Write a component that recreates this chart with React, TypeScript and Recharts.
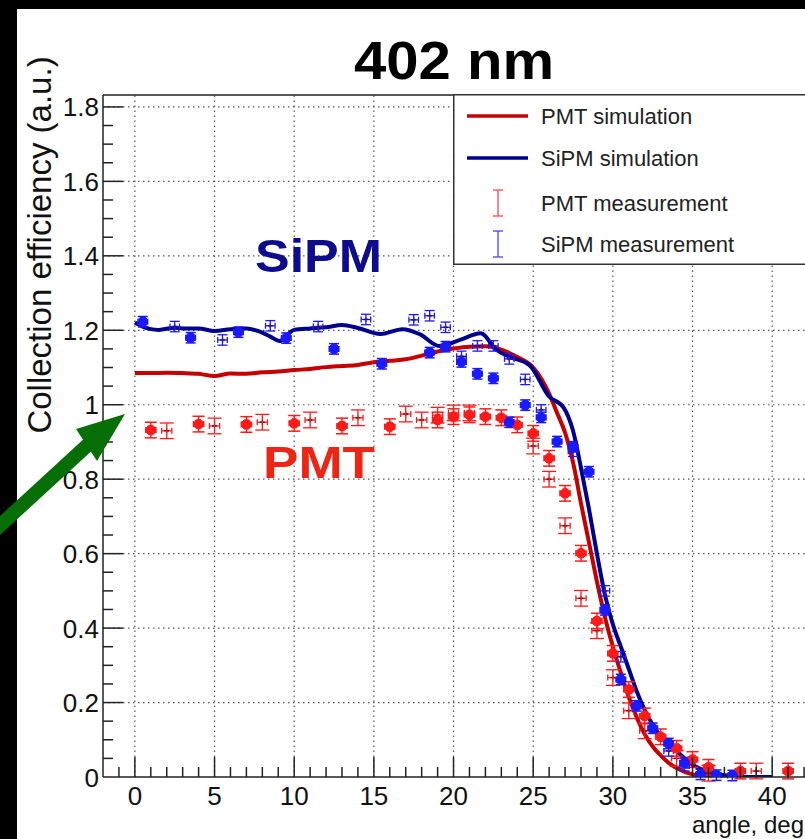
import React from "react";
import {
  ComposedChart,
  Line,
  Scatter,
  XAxis,
  YAxis,
  ReferenceLine,
  ErrorBar,
} from "recharts";

const FONT = "'Liberation Sans', Arial, Helvetica, sans-serif";

// axis ranges read from the frame
const X_MIN = -2;
const X_MAX = 43;
const Y_MAX = 1.832;

const xGrid = [0, 5, 10, 15, 20, 25, 30, 35, 40];
const yGrid = [0.2, 0.4, 0.6, 0.8, 1, 1.2, 1.4, 1.6, 1.8];
const xTicks = Array.from({ length: 44 }, (_, i) => i - 1);
const yTicks = Array.from({ length: 37 }, (_, i) => +(i * 0.05).toFixed(2));

// simulation curves
const pmtSimAngle = [
  0, 1, 2, 3, 4, 5, 6, 7, 8, 9, 10, 11, 12, 13, 14, 15, 16, 17, 18, 19, 20, 21,
  22, 23, 24, 25, 26, 26.5, 27, 27.5, 28, 28.5, 29, 29.5, 30, 30.5, 31, 31.5,
  32, 32.5, 33, 33.5, 34, 35, 36, 37, 38, 39, 40,
];
const pmtSimEff = [
  1.085, 1.085, 1.086, 1.085, 1.083, 1.077, 1.084, 1.083, 1.087, 1.089, 1.093,
  1.096, 1.101, 1.104, 1.107, 1.114, 1.118, 1.122, 1.132, 1.143, 1.151, 1.156,
  1.157, 1.148, 1.128, 1.1, 1.03, 0.978, 0.925, 0.845, 0.735, 0.63, 0.525,
  0.43, 0.35, 0.28, 0.215, 0.16, 0.115, 0.082, 0.058, 0.038, 0.024, 0.007,
  0.002, 0, 0, 0, 0,
];

const sipmSimAngle = [
  0, 0.5, 1, 1.5, 2.5, 3, 4, 5, 6, 7, 7.8, 8.5, 9.1, 9.5, 10, 11, 12, 13, 14,
  15.4, 16.8, 17.9, 19.1, 20.4, 21.7, 22.7, 23.5, 24.8, 26, 26.9, 27.5, 28,
  28.5, 29, 29.5, 30, 30.5, 31, 31.5, 32, 32.5, 33, 33.5, 34, 34.5, 35, 36, 37,
  38, 40,
];
const sipmSimEff = [
  1.221, 1.21, 1.203, 1.201, 1.207, 1.205, 1.205, 1.198, 1.203, 1.205, 1.197,
  1.183, 1.171, 1.185, 1.201, 1.205, 1.208, 1.214, 1.206, 1.19, 1.203, 1.189,
  1.158, 1.174, 1.192, 1.147, 1.129, 1.105, 1.022, 0.993, 0.93, 0.83, 0.72, 0.6,
  0.49, 0.41, 0.35, 0.29, 0.23, 0.18, 0.14, 0.11, 0.09, 0.07, 0.05, 0.033,
  0.014, 0.005, 0.001, 0,
];

// measurements (two runs each)
const pmtFilledAngle = [
  1, 4, 7, 10, 13, 16, 19, 20, 21, 22, 23, 24, 25, 26, 27, 28, 29, 30, 31, 32,
  33, 34, 35, 36, 38, 41,
];
const pmtFilledEff = [
  0.932, 0.948, 0.947, 0.95, 0.943, 0.941, 0.959, 0.968, 0.973, 0.968, 0.965,
  0.946, 0.923, 0.856, 0.762, 0.601, 0.419, 0.332, 0.235, 0.164, 0.108, 0.077,
  0.047, 0.026, 0.016, 0.016,
];
const pmtOpenAngle = [
  2, 5, 8, 11, 14, 17, 18, 19, 20, 21, 25, 26, 27, 28, 29, 30, 31, 32, 34, 36, 39,
];
const pmtOpenEff = [
  0.93, 0.943, 0.953, 0.959, 0.965, 0.975, 0.959, 0.972, 0.978, 0.978, 0.889,
  0.8, 0.675, 0.48, 0.393, 0.267, 0.178, 0.124, 0.05, 0.01, 0.016,
];

const sipmFilledAngle = [
  0.5, 3.5, 6.5, 9.5, 12.5, 15.5, 18.5, 19.5, 20.5, 21.5, 22.5, 23.5, 24.5,
  25.5, 26.5, 27.5, 28.5, 29.5, 30.5, 31.5, 32.5, 33.5, 34.5, 35.5, 36.5, 37.5,
];
const sipmFilledEff = [
  1.223, 1.18, 1.195, 1.179, 1.15, 1.11, 1.14, 1.156, 1.115, 1.083, 1.071,
  0.953, 0.999, 0.966, 0.901, 0.887, 0.82, 0.449, 0.262, 0.191, 0.131, 0.09,
  0.038, 0.007, 0.005, 0.004,
];
const sipmOpenAngle = [
  2.5, 5.5, 8.5, 11.5, 14.5, 17.5, 18.5, 19.5, 20.5, 21.5, 22.5, 23.5, 24.5,
  25.5, 27.5, 29.5, 30.5, 33.5, 34.5,
];
const sipmOpenEff = [
  1.21, 1.174, 1.212, 1.21, 1.229, 1.228, 1.239, 1.208, 1.13, 1.158, 1.158,
  1.123, 1.068, 0.986, 0.875, 0.5, 0.323, 0.07, 0.03,
];

const PMT_ERR_X = 0.32;
const PMT_ERR_Y = 0.021;
const SIPM_ERR_X = 0.3;
const SIPM_ERR_Y = 0.014;

const PMT_LINE = "#c40000";
const SIPM_LINE = "#00008f";
const PMT_PTS = "#ff1a1a";
const SIPM_PTS = "#1a1aff";

const curve = (xs: number[], ys: number[]) => xs.map((x, i) => ({ x, y: ys[i] }));
const points = (xs: number[], ys: number[], ex: number, ey: number) =>
  xs.map((x, i) => ({ x, y: ys[i], ex, ey }));

const pmtSim = curve(pmtSimAngle, pmtSimEff);
const sipmSim = curve(sipmSimAngle, sipmSimEff);
const pmtFilled = points(pmtFilledAngle, pmtFilledEff, PMT_ERR_X, PMT_ERR_Y);
const pmtOpen = points(pmtOpenAngle, pmtOpenEff, PMT_ERR_X, PMT_ERR_Y);
const sipmFilled = points(sipmFilledAngle, sipmFilledEff, SIPM_ERR_X, SIPM_ERR_Y);
const sipmOpen = points(sipmOpenAngle, sipmOpenEff, SIPM_ERR_X, SIPM_ERR_Y);

const filledMarker = (color: string) => (props: any) => {
  const { cx, cy } = props;
  if (cx == null || cy == null) return <g />;
  const a = 4.6;
  const b = 2.2;
  const d = `M${cx - b},${cy - a} L${cx + b},${cy - a} L${cx + a},${cy - b} L${cx + a},${cy + b} L${cx + b},${cy + a} L${cx - b},${cy + a} L${cx - a},${cy + b} L${cx - a},${cy - b} Z`;
  return <path d={d} fill={color} stroke={color} strokeWidth={1} />;
};

const openMarker = (color: string) => (props: any) => {
  const { cx, cy } = props;
  if (cx == null || cy == null) return <g />;
  return (
    <g strokeWidth={1.3} fill="none">
      <line x1={cx - 2.5} x2={cx + 2.5} y1={cy} y2={cy} stroke="#500" />
      <line x1={cx} x2={cx} y1={cy - 2.5} y2={cy + 2.5} stroke={color} />
    </g>
  );
};

const XTick = (props: any) => {
  const { x, y, payload } = props;
  const v = payload.value;
  const major = v % 5 === 0;
  return (
    <g>
      <line x1={x} x2={x} y1={y} y2={y - (major ? 20 : 10)} stroke="#222" strokeWidth={1.5} />
      {major && v >= 0 && v <= 40 && (
        <text x={x} y={y + 28} textAnchor="middle" fontSize={26} fontFamily={FONT} fill="#111">
          {v}
        </text>
      )}
    </g>
  );
};

const YTick = (props: any) => {
  const { x, y, payload } = props;
  const v = payload.value;
  const major = Math.abs(v * 5 - Math.round(v * 5)) < 1e-6;
  return (
    <g>
      {v > 0 && (
        <line x1={x} x2={x + (major ? 20 : 10)} y1={y} y2={y} stroke="#222" strokeWidth={1.5} />
      )}
      {major && (
        <text x={x - 4} y={y + 9.5} textAnchor="end" fontSize={26} fontFamily={FONT} fill="#111">
          {Number(v.toFixed(1))}
        </text>
      )}
    </g>
  );
};

const legendItems = [
  { label: "PMT simulation", color: PMT_LINE, kind: "line" },
  { label: "SiPM simulation", color: SIPM_LINE, kind: "line" },
  { label: "PMT measurement", color: PMT_PTS, kind: "bar" },
  { label: "SiPM measurement", color: SIPM_PTS, kind: "bar" },
];

function LegendBox() {
  const rowY = [22, 64, 109, 150];
  return (
    <svg
      width={352}
      height={171}
      style={{ position: "absolute", left: 453, top: 94, background: "#fff" }}
    >
      <rect x={0.75} y={0.75} width={352} height={169.5} fill="#fff" stroke="#333" strokeWidth={1.5} />
      {legendItems.map((it, i) => (
        <g key={it.label}>
          {it.kind === "line" ? (
            <line x1={14} x2={75} y1={rowY[i]} y2={rowY[i]} stroke={it.color} strokeWidth={3.5} />
          ) : (
            <g stroke={it.color} strokeWidth={1.3} opacity={0.8}>
              <line x1={45} x2={45} y1={rowY[i] - 13} y2={rowY[i] + 13} />
              <line x1={40} x2={50} y1={rowY[i] - 13} y2={rowY[i] - 13} />
              <line x1={40} x2={50} y1={rowY[i] + 13} y2={rowY[i] + 13} />
            </g>
          )}
          <text x={88} y={rowY[i] + 8} fontSize={22} fontFamily={FONT} fill="#222">
            {it.label}
          </text>
        </g>
      ))}
    </svg>
  );
}

export default function App() {
  return (
    <div
      style={{
        position: "absolute",
        left: 0,
        top: 0,
        width: 805,
        height: 839,
        overflow: "hidden",
        background: "#000",
      }}
    >
      <div style={{ position: "absolute", left: 17, top: 9, right: 0, bottom: 0, background: "#fff" }} />
      <div style={{ position: "absolute", left: 0, top: 0 }}>
        <ComposedChart width={820} height={839} margin={{ top: 95, right: 0, bottom: 0, left: 0 }}>
          <XAxis
            dataKey="x"
            type="number"
            domain={[X_MIN, X_MAX]}
            ticks={xTicks}
            interval={0}
            tickLine={false}
            tickSize={0}
            tickMargin={0}
            tick={<XTick />}
            height={62}
            axisLine={{ stroke: "#222", strokeWidth: 1.5 }}
            allowDataOverflow
          />
          <YAxis
            dataKey="y"
            type="number"
            domain={[0, Y_MAX]}
            ticks={yTicks}
            interval={0}
            tickLine={false}
            tickSize={0}
            tickMargin={0}
            tick={<YTick />}
            width={103}
            axisLine={{ stroke: "#222", strokeWidth: 1.5 }}
            allowDataOverflow
          />
          {xGrid.map((v) => (
            <ReferenceLine key={"gx" + v} x={v} stroke="#555" strokeWidth={1.2} strokeDasharray="1.5 3.5" />
          ))}
          {yGrid.map((v) => (
            <ReferenceLine key={"gy" + v} y={v} stroke="#555" strokeWidth={1.2} strokeDasharray="1.5 3.5" />
          ))}
          <ReferenceLine y={Y_MAX} stroke="#222" strokeWidth={1.5} />
          <Line
            data={pmtSim}
            dataKey="y"
            type="monotone"
            stroke={PMT_LINE}
            strokeWidth={4}
            dot={false}
            isAnimationActive={false}
          />
          <Line
            data={sipmSim}
            dataKey="y"
            type="monotone"
            stroke={SIPM_LINE}
            strokeWidth={4}
            dot={false}
            isAnimationActive={false}
          />
          <Scatter data={pmtOpen} dataKey="y" shape={openMarker(PMT_PTS)} isAnimationActive={false}>
            <ErrorBar dataKey="ey" direction="y" width={7} stroke={PMT_PTS} strokeWidth={1.3} />
            <ErrorBar dataKey="ex" direction="x" width={3} stroke={PMT_PTS} strokeWidth={1.3} />
          </Scatter>
          <Scatter data={pmtFilled} dataKey="y" shape={filledMarker(PMT_PTS)} isAnimationActive={false}>
            <ErrorBar dataKey="ey" direction="y" width={6} stroke={PMT_PTS} strokeWidth={1.5} />
            <ErrorBar dataKey="ex" direction="x" width={3} stroke={PMT_PTS} strokeWidth={1.5} />
          </Scatter>
          <Scatter data={sipmOpen} dataKey="y" shape={openMarker(SIPM_PTS)} isAnimationActive={false}>
            <ErrorBar dataKey="ey" direction="y" width={5} stroke={SIPM_PTS} strokeWidth={1.3} />
            <ErrorBar dataKey="ex" direction="x" width={3} stroke={SIPM_PTS} strokeWidth={1.3} />
          </Scatter>
          <Scatter data={sipmFilled} dataKey="y" shape={filledMarker(SIPM_PTS)} isAnimationActive={false}>
            <ErrorBar dataKey="ey" direction="y" width={5} stroke={SIPM_PTS} strokeWidth={1.5} />
            <ErrorBar dataKey="ex" direction="x" width={3} stroke={SIPM_PTS} strokeWidth={1.5} />
          </Scatter>
        </ComposedChart>
      </div>
      <LegendBox />
      <svg
        width={805}
        height={839}
        style={{ position: "absolute", left: 0, top: 0, pointerEvents: "none" }}
      >
        <text x={454} y={79} textAnchor="middle" fontSize={53} fontWeight="bold" fontFamily={FONT} fill="#000" textLength={200} lengthAdjust="spacingAndGlyphs">
          402 nm
        </text>
        <text
          transform="translate(51,245) rotate(-90)"
          textAnchor="middle"
          fontSize={33}
          fontFamily={FONT}
          fill="#111"
        >
          Collection efficiency (a.u.)
        </text>
        <text x={804} y={833} textAnchor="end" fontSize={24} fontFamily={FONT} fill="#111">
          angle, deg
        </text>
        <text x={255} y={272} fontSize={47} fontWeight="bold" fontFamily={FONT} fill="#0c0c8c" textLength={127} lengthAdjust="spacingAndGlyphs">
          SiPM
        </text>
        <text x={263} y={478} fontSize={45} fontWeight="bold" fontFamily={FONT} fill="#ee2414" textLength={112} lengthAdjust="spacingAndGlyphs">
          PMT
        </text>
        <line x1={-6} y1={531} x2={92} y2={441} stroke="#056e05" strokeWidth={14} />
        <polygon points="125,414 76,429 97,461" fill="#056e05" />
      </svg>
    </div>
  );
}
